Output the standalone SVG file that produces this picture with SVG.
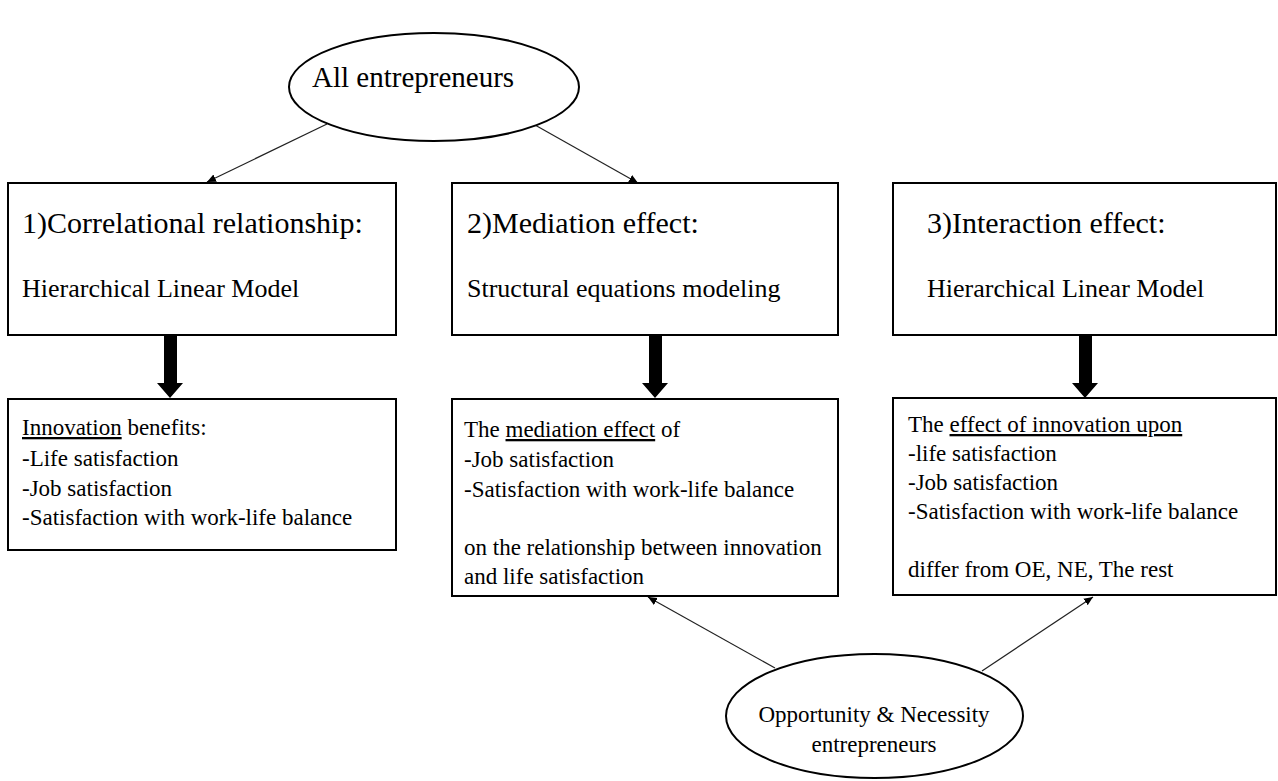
<svg xmlns="http://www.w3.org/2000/svg" width="1278" height="781" viewBox="0 0 1278 781">
<style>
  .shape{fill:#fff;stroke:#000;stroke-width:2}
  .t{font-family:"Liberation Serif","Times New Roman",serif;fill:#000}
  .h1{font-size:30px}
  .h2{font-size:26px}
  .b{font-size:23px}
  .u{text-decoration:underline}
  .thin{stroke:#222;stroke-width:1.2;fill:none;marker-end:url(#ah)}
  .fat{fill:#000}
</style>
<defs>
  <marker id="ah" markerWidth="10" markerHeight="10" refX="9" refY="5" orient="auto" markerUnits="userSpaceOnUse">
    <path d="M0,1 L9,5 L0,9 Z" fill="#000"/>
  </marker>
</defs>
<rect width="1278" height="781" fill="#fff"/>

<g id="connectors">
  <line class="thin" x1="327" y1="124" x2="207" y2="182"/>
  <line class="thin" x1="535" y1="125" x2="638" y2="183"/>
  <line class="thin" x1="775" y1="668" x2="648" y2="597"/>
  <line class="thin" x1="982" y1="671" x2="1093" y2="597"/>
  <polygon class="fat" points="164,336 177,336 177,383 183,383 170,398 157,383 164,383"/>
  <polygon class="fat" points="649,336 662,336 662,383 668,383 655,398 642,383 649,383"/>
  <polygon class="fat" points="1079,336 1092,336 1092,383 1098,383 1085,398 1072,383 1079,383"/>
</g>

<g id="all-entrepreneurs">
  <ellipse class="shape" cx="434" cy="87" rx="145" ry="54"/>
  <text class="t" x="312" y="87" font-size="29">All entrepreneurs</text>
</g>

<g id="box-correlational">
  <rect class="shape" x="8" y="183" width="388" height="152"/>
  <text class="t h1" x="22" y="233">1)Correlational relationship:</text>
  <text class="t h2" x="22" y="297">Hierarchical Linear Model</text>
</g>

<g id="box-mediation">
  <rect class="shape" x="452" y="183" width="386" height="152"/>
  <text class="t h1" x="467" y="233">2)Mediation effect:</text>
  <text class="t h2" x="467" y="297">Structural equations modeling</text>
</g>

<g id="box-interaction">
  <rect class="shape" x="893" y="183" width="383" height="152"/>
  <text class="t h1" x="927" y="233">3)Interaction effect:</text>
  <text class="t h2" x="927" y="297">Hierarchical Linear Model</text>
</g>

<g id="box-benefits">
  <rect class="shape" x="8" y="399" width="388" height="151"/>
  <text class="t b" x="22" y="435"><tspan class="u">Innovation</tspan> benefits:</text>
  <text class="t b" x="22" y="466">-Life satisfaction</text>
  <text class="t b" x="22" y="496">-Job satisfaction</text>
  <text class="t b" x="22" y="525">-Satisfaction with work-life balance</text>
</g>

<g id="box-mediation-detail">
  <rect class="shape" x="452" y="399" width="386" height="197"/>
  <text class="t b" x="464" y="437">The <tspan class="u">mediation effect</tspan> of</text>
  <text class="t b" x="464" y="467">-Job satisfaction</text>
  <text class="t b" x="464" y="497">-Satisfaction with work-life balance</text>
  <text class="t b" x="464" y="555">on the relationship between innovation</text>
  <text class="t b" x="464" y="584">and life satisfaction</text>
</g>

<g id="box-interaction-detail">
  <rect class="shape" x="893" y="398" width="383" height="197"/>
  <text class="t b" x="908" y="432">The <tspan class="u">effect of innovation upon</tspan></text>
  <text class="t b" x="908" y="461">-life satisfaction</text>
  <text class="t b" x="908" y="490">-Job satisfaction</text>
  <text class="t b" x="908" y="519">-Satisfaction with work-life balance</text>
  <text class="t b" x="908" y="577">differ from OE, NE, The rest</text>
</g>

<g id="opportunity-necessity">
  <ellipse class="shape" cx="874.5" cy="716" rx="148.5" ry="62"/>
  <text class="t b" x="874" y="722" text-anchor="middle">Opportunity &amp; Necessity</text>
  <text class="t b" x="874" y="752" text-anchor="middle">entrepreneurs</text>
</g>
</svg>
